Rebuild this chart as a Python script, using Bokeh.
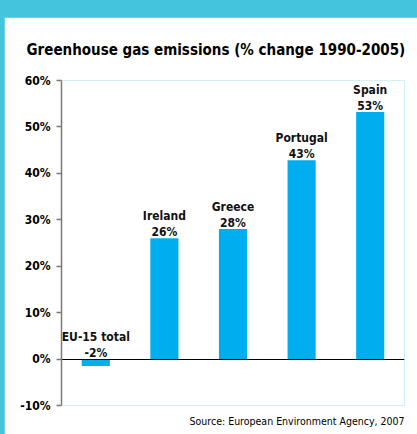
from bokeh.plotting import figure
from bokeh.models import ColumnDataSource, Title, PrintfTickFormatter, FixedTicker
from bokeh.layouts import column
from bokeh.embed import file_html
from bokeh.resources import INLINE
from bokeh.core.properties import value

categories = ["EU-15 total", "Ireland", "Greece", "Portugal", "Spain"]
changes = [-1.5, 26, 28, 42.8, 53.2]
value_labels = ["-2%", "26%", "28%", "43%", "53%"]
y_ticks = [-10, 0, 10, 20, 30, 40, 50, 60]

FONT = "DejaVu Sans Condensed"
BAR = "#00AEEF"
CYAN = "#45C4DE"

src = ColumnDataSource(dict(
    cat=categories,
    val=changes,
    lab=value_labels,
    ly=[max(v, 0) for v in changes],
))

p = figure(x_range=categories, y_range=(-10, 60), width=413, height=417,
           output_backend="svg", toolbar_location=None,
           min_border_left=57, min_border_right=13, min_border_top=62, min_border_bottom=29)
p.margin = (17, 0, 0, 4)
p.x_range.range_padding = 0
p.outline_line_color = None
p.background_fill_color = "white"
p.border_fill_color = "white"
p.grid.visible = False
p.xaxis.visible = False

p.title.text = "Greenhouse gas emissions (% change 1990-2005)"
p.title.text_font = FONT
p.title.text_font_style = "bold"
p.title.text_font_size = "15px"
p.title.text_color = "black"
p.title.align = "left"
p.title.offset = -35
p.title.standoff = 43

p.vbar(x="cat", top="val", bottom=0, width=0.41, source=src, fill_color=BAR, line_color=None)

p.hspan(y=[0], line_color="black", line_width=1.2)

ax = p.yaxis[0]
ax.ticker = FixedTicker(ticks=y_ticks)
ax.formatter = PrintfTickFormatter(format="%d%%")
ax.axis_line_color = "#7a7a7a"
ax.axis_line_width = 1.5
ax.major_tick_line_color = "#7a7a7a"
ax.major_tick_line_width = 1.5
ax.major_tick_in = 0
ax.major_tick_out = 5
ax.minor_tick_line_color = None
ax.major_label_text_font = FONT
ax.major_label_text_font_style = "bold"
ax.major_label_text_font_size = "12px"
ax.major_label_text_color = "black"
ax.major_label_standoff = 6

p.text(x="cat", y="ly", text="lab", source=src, y_offset=-6,
       text_align="center", text_baseline="alphabetic",
       text_font=value(FONT), text_font_style="bold", text_font_size="12px", text_color="#111111")
p.text(x="cat", y="ly", text="cat", source=src, y_offset=-22.5,
       text_align="center", text_baseline="alphabetic",
       text_font=value(FONT), text_font_style="bold", text_font_size="12px", text_color="#111111")

source_note = Title(text="Source: European Environment Agency, 2007", align="right",
                    text_font=FONT, text_font_style="normal", text_font_size="10.5px",
                    text_color="black", standoff=15, vertical_align="bottom")
p.add_layout(source_note, "below")

layout = column(p, styles={"background-color": CYAN}, width=417, height=434)
open("out.html", "w").write(file_html(layout, INLINE))
